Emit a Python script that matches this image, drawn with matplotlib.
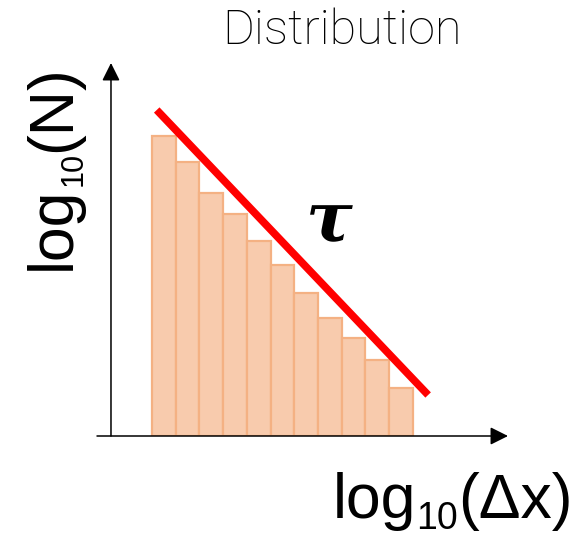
import numpy as np
import matplotlib
matplotlib.use("Agg")
import matplotlib.pyplot as plt

# data: bin index vs log10(N) (schematic histogram)
bins = np.arange(1, 12)
log_counts = [3.00, 2.74, 2.43, 2.22, 1.95, 1.71, 1.43, 1.18, 0.98, 0.76, 0.48]
# power-law fit (slope tau)
fit_x = [0.70, 12.15]
fit_y = [3.26, 0.41]

fig = plt.figure(figsize=(5.81, 5.37), dpi=100)
W, H = 581, 537
ax = fig.add_axes([97 / W, (H - 436) / H, (508 - 97) / W, (436 - 63) / H])
ax.set_xlim(-1.82, 15.52)
ax.set_ylim(0, 3.73)
ax.axis('off')

# histogram bars
ax.bar(bins, log_counts, width=1.0, color='#F8CBAD', edgecolor='#F4B183',
       linewidth=1.6, zorder=2)

# fitted line
ax.plot(fit_x, fit_y, color='#FF0000', linewidth=5.5, solid_capstyle='butt', zorder=3)

# axes with arrows
arrow = dict(arrowstyle='-|>', color='black', lw=1.1, mutation_scale=27, shrinkA=0, shrinkB=0)
ax.annotate('', xy=(15.52, 0), xytext=(-1.82, 0), arrowprops=arrow, annotation_clip=False)
ax.annotate('', xy=(-1.23, 3.73), xytext=(-1.23, 0), arrowprops=arrow, annotation_clip=False)

# texts
fig.text(342 / W, 1 - 31 / H, 'Distribution', ha='center', va='center',
         fontsize=35, family='Roboto', fontweight='light', color='black')
fig.text(329 / W, 1 - 222 / H, 'τ', ha='center', va='center', fontsize=50,
         family='DejaVu Serif', fontweight='bold', style='italic')

renderer = fig.canvas.get_renderer()


def chain(pieces, x0, y0, vertical=False):
    # pieces: (text, fontsize, baseline shift in px)
    pos = x0 if not vertical else y0
    for s, size, shift in pieces:
        if vertical:
            t = fig.text((x0 + shift) / W, 1 - pos / H, s, fontsize=size, family='Liberation Sans',
                         rotation=90, rotation_mode='anchor', ha='left', va='baseline')
            bb = t.get_window_extent(renderer)
            pos -= bb.height
        else:
            t = fig.text(pos / W, 1 - (y0 + shift) / H, s, fontsize=size, family='Liberation Sans',
                         ha='left', va='baseline')
            bb = t.get_window_extent(renderer)
            pos += bb.width


chain([('log', 45, 0), ('10', 27, 11), ('(Δx)', 45, 0)], 333, 518)
chain([('log', 45, 0), ('10', 22, 12), ('(N)', 45, 0)], 70, 270, vertical=True)

fig.savefig('out.png', dpi=100)
